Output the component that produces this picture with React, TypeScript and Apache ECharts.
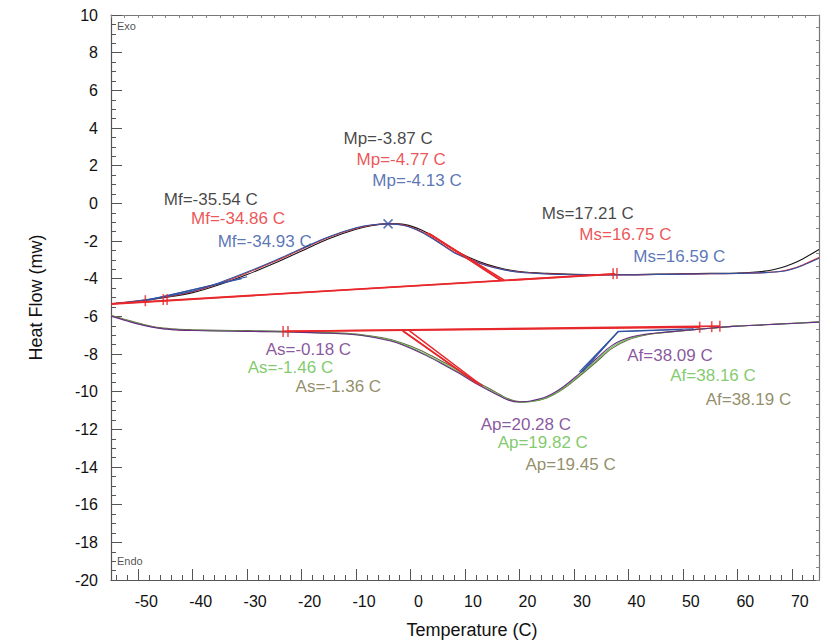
import React, { useEffect, useRef } from "react";
import * as echarts from "echarts";

// ---------- data ----------
const xMajorTicks = [-50, -40, -30, -20, -10, 0, 10, 20, 30, 40, 50, 60, 70];
const xMinorTicks: number[] = [];
for (let v = -54; v <= 74; v += 2) if (v % 10 !== 0) xMinorTicks.push(v);

// cooling scans (upper)
const coolX = [-55, -50, -45, -40, -35, -30, -25, -20, -15, -10, -7, -4, -1, 2, 5, 8, 11, 14, 17, 20, 25, 30, 35, 40, 45, 50, 55, 60, 65, 68, 70, 72, 75];
const coolBlack = [-5.34, -5.2, -5.0, -4.74, -4.31, -3.78, -3.18, -2.53, -1.88, -1.38, -1.18, -1.08, -1.13, -1.42, -1.92, -2.48, -2.9, -3.24, -3.47, -3.62, -3.72, -3.77, -3.78, -3.78, -3.76, -3.74, -3.72, -3.7, -3.6, -3.42, -3.22, -2.95, -2.45];
const coolRed = [-5.33, -5.18, -4.97, -4.69, -4.24, -3.69, -3.09, -2.44, -1.8, -1.32, -1.15, -1.09, -1.17, -1.5, -2.01, -2.58, -2.97, -3.29, -3.51, -3.65, -3.74, -3.79, -3.8, -3.8, -3.78, -3.76, -3.74, -3.72, -3.68, -3.61, -3.48, -3.27, -2.88];
const coolBlue = [-5.33, -5.17, -4.95, -4.66, -4.2, -3.65, -3.05, -2.4, -1.77, -1.3, -1.14, -1.09, -1.19, -1.53, -2.05, -2.62, -3.0, -3.31, -3.52, -3.66, -3.75, -3.79, -3.8, -3.8, -3.78, -3.76, -3.74, -3.72, -3.68, -3.62, -3.5, -3.3, -2.92];

// heating scans (lower)
const heatX = [-55, -52, -49, -46, -43, -40, -35, -30, -25, -20, -15, -10, -6, -3, 0, 3, 6, 9, 12, 15, 18, 20, 22, 25, 28, 31, 34, 37, 40, 43, 46, 50, 55, 60, 65, 70, 75];
const heatOlive = [-5.94, -6.2, -6.43, -6.6, -6.68, -6.71, -6.74, -6.76, -6.78, -6.81, -6.86, -6.94, -7.1, -7.28, -7.58, -7.97, -8.42, -8.9, -9.45, -9.92, -10.38, -10.53, -10.52, -10.33, -9.86, -9.18, -8.45, -7.7, -7.24, -7.0, -6.88, -6.76, -6.63, -6.52, -6.45, -6.37, -6.29];
const heatGreen = [-5.97, -6.23, -6.46, -6.63, -6.71, -6.74, -6.77, -6.79, -6.81, -6.84, -6.89, -6.97, -7.14, -7.33, -7.65, -8.05, -8.5, -8.98, -9.52, -9.99, -10.43, -10.56, -10.53, -10.31, -9.82, -9.12, -8.38, -7.62, -7.19, -6.98, -6.87, -6.76, -6.63, -6.52, -6.45, -6.38, -6.3];
const heatPurple = [-5.99, -6.25, -6.48, -6.64, -6.72, -6.75, -6.78, -6.8, -6.82, -6.85, -6.9, -6.98, -7.16, -7.36, -7.69, -8.1, -8.56, -9.04, -9.57, -10.03, -10.45, -10.55, -10.5, -10.26, -9.75, -9.04, -8.28, -7.54, -7.14, -6.96, -6.86, -6.76, -6.63, -6.52, -6.45, -6.38, -6.31];

// construction lines
const redBaselines = [
  [[-55, -5.33], [37.6, -3.74]],
  [[-55, -5.35], [37.2, -3.76]],
  [[-23.4, -6.8], [53.1, -6.58]],
  [[-22.5, -6.79], [56.8, -6.52]],
];
const redTangents = [
  [[3.0, -1.55], [17.21, -4.08]],
  [[3.4, -1.6], [16.75, -4.09]],
  [[3.8, -1.68], [16.59, -4.1]],
  [[-1.46, -6.77], [12.2, -9.56]],
  [[-1.36, -6.77], [12.6, -9.62]],
  [[-0.18, -6.77], [13.2, -9.7]],
];
const blueTangents = [
  [[-49, -5.17], [-31, -4.0]],
  [[-48, -5.14], [-30, -3.9]],
  [[31.0, -8.95], [38.09, -6.82]],
  [[31.3, -8.95], [38.16, -6.8]],
  [[31.6, -8.93], [38.19, -6.78]],
  [[38.09, -6.82], [50, -6.7]],
  [[38.16, -6.8], [52, -6.66]],
];
const redMarks = [[-48.7, -5.17], [-45.4, -5.11], [-44.7, -5.1], [37.2, -3.74], [37.9, -3.73], [-23.4, -6.8], [-22.5, -6.8], [53.1, -6.58], [55.3, -6.55], [56.8, -6.52]];
const peakMark = [[-4.13, -1.09]];

// annotations: [text, x, y, colourKey]
const annotations: [string, number, number, string][] = [
  ["Mf=-35.54 C", -45.4, 0.22, "black"],
  ["Mf=-34.86 C", -40.4, -0.78, "red"],
  ["Mf=-34.93 C", -35.5, -2.05, "blue"],
  ["Mp=-3.87 C", -12.4, 3.45, "black"],
  ["Mp=-4.77 C", -10.0, 2.34, "red"],
  ["Mp=-4.13 C", -7.1, 1.23, "blue"],
  ["Ms=17.21 C", 24.0, -0.52, "black"],
  ["Ms=16.75 C", 30.9, -1.68, "red"],
  ["Ms=16.59 C", 40.8, -2.8, "blue"],
  ["As=-0.18 C", -26.7, -7.77, "purple"],
  ["As=-1.46 C", -30.0, -8.72, "green"],
  ["As=-1.36 C", -21.2, -9.73, "olive"],
  ["Ap=20.28 C", 12.8, -11.74, "purple"],
  ["Ap=19.82 C", 15.9, -12.69, "green"],
  ["Ap=19.45 C", 21.0, -13.86, "olive"],
  ["Af=38.09 C", 39.7, -8.09, "purple"],
  ["Af=38.16 C", 47.6, -9.15, "green"],
  ["Af=38.19 C", 54.1, -10.42, "olive"],
];
const sideLabels: [string, number, number][] = [
  ["Exo", -54.0, 9.42],
  ["Endo", -54.0, -19.0],
];

// ---------- styles ----------
const C: Record<string, string> = {
  black: "#151515",
  red: "#e8282c",
  blue: "#3152a3",
  purple: "#6c2c86",
  green: "#5fbd46",
  olive: "#787143",
};
const FONT = "'Liberation Sans', Arial, sans-serif";

function curve(name: string, xs: number[], ys: number[], color: string) {
  return {
    name,
    type: "line",
    data: xs.map((x, i) => [x, ys[i]]),
    smooth: 0.35,
    showSymbol: false,
    symbol: "none",
    lineStyle: { color, width: 1.1 },
    z: 3,
    silent: true,
  };
}
function segs(list: number[][][], color: string, width: number) {
  return list.map((s, i) => ({
    name: color + "seg" + i,
    type: "line",
    data: s,
    showSymbol: false,
    symbol: "none",
    lineStyle: { color, width },
    z: 4,
    silent: true,
  }));
}

export default function App() {
  const ref = useRef<HTMLDivElement>(null);
  useEffect(() => {
    const chart = echarts.init(ref.current!, null, { renderer: "svg" });
    const axisCol = "#555";
    const option: any = {
      animation: false,
      backgroundColor: "#fff",
      textStyle: { fontFamily: FONT },
      grid: { left: 111, right: 6, top: 15, bottom: 62, containLabel: false },
      xAxis: [
        {
          type: "value",
          min: -55,
          max: 75,
          position: "bottom",
          axisLine: { show: true, onZero: false, lineStyle: { color: axisCol, width: 1.2 } },
          axisTick: { show: true, inside: true, length: 11, customValues: xMajorTicks, lineStyle: { color: axisCol } },
          axisLabel: { customValues: xMajorTicks, fontSize: 16, color: "#111", margin: 13, padding: [0, 0, 0, 16], fontFamily: FONT },
          splitLine: { show: false },
          name: "Temperature (C)",
          nameLocation: "middle",
          nameGap: 41,
          nameTextStyle: { fontSize: 18, color: "#111", fontFamily: FONT, padding: [0, 0, 0, 14] },
        },
        {
          type: "value",
          min: -55,
          max: 75,
          position: "bottom",
          axisLine: { show: false, onZero: false },
          axisTick: { show: true, inside: true, length: 5, customValues: xMinorTicks, lineStyle: { color: axisCol } },
          axisLabel: { show: false },
          splitLine: { show: false },
        },
        {
          type: "value",
          min: -55,
          max: 75,
          interval: 2.5,
          position: "top",
          axisLine: { show: true, onZero: false, lineStyle: { color: "#777", width: 1.2 } },
          axisTick: { show: true, inside: true, length: 3, lineStyle: { color: "#888" } },
          axisLabel: { show: false },
          splitLine: { show: false },
        },
      ],
      yAxis: [
        {
          type: "value",
          min: -20,
          max: 10,
          interval: 2,
          position: "left",
          axisLine: { show: true, onZero: false, lineStyle: { color: axisCol, width: 1.2 } },
          axisTick: { show: true, inside: true, length: 11, lineStyle: { color: axisCol } },
          minorTick: { show: true, splitNumber: 4, length: 5, lineStyle: { color: axisCol } },
          axisLabel: { fontSize: 16, color: "#111", margin: 13, fontFamily: FONT },
          splitLine: { show: false },
          name: "Heat Flow (mw)",
          nameLocation: "middle",
          nameGap: 66,
          nameTextStyle: { fontSize: 18, color: "#111", fontFamily: FONT },
        },
        {
          type: "value",
          min: -20,
          max: 10,
          interval: 2,
          position: "right",
          axisLine: { show: true, onZero: false, lineStyle: { color: "#777", width: 1.2 } },
          axisTick: { show: true, inside: true, length: 3, lineStyle: { color: "#888" } },
          minorTick: { show: true, splitNumber: 3, length: 3, lineStyle: { color: "#888" } },
          axisLabel: { show: false },
          splitLine: { show: false },
        },
      ],
      series: [
        ...segs(redBaselines, C.red, 1.6),
        ...segs(redTangents, C.red, 1.5),
        ...segs(blueTangents, C.blue, 1.1),
        curve("coolBlack", coolX, coolBlack, C.black),
        curve("coolRed", coolX, coolRed, C.red),
        curve("coolBlue", coolX, coolBlue, C.blue),
        curve("heatOlive", heatX, heatOlive, "#6a6845"),
        curve("heatGreen", heatX, heatGreen, C.green),
        curve("heatPurple", heatX, heatPurple, C.purple),
        {
          name: "marks",
          type: "scatter",
          data: redMarks,
          symbol: "rect",
          symbolSize: [1.6, 11],
          itemStyle: { color: C.red },
          z: 6,
          silent: true,
        },
        {
          name: "peak",
          type: "scatter",
          data: peakMark,
          symbol: "path://M0 0L10 10M10 0L0 10",
          symbolSize: 9,
          itemStyle: { color: "none", borderColor: C.blue, borderWidth: 1.5 },
          z: 7,
          silent: true,
        },
        {
          name: "annotations",
          type: "scatter",
          data: annotations.map(([t, x, y, c]) => ({
            name: t,
            value: [x, y],
            label: { color: C[c] },
          })),
          symbolSize: 1,
          itemStyle: { color: "rgba(0,0,0,0)" },
          label: {
            show: true,
            position: "right",
            distance: 0,
            formatter: (p: any) => p.name,
            fontSize: 17,
            fontFamily: FONT,
          },
          z: 8,
          silent: true,
        },
        {
          name: "side",
          type: "scatter",
          data: sideLabels.map(([t, x, y]) => ({ name: t, value: [x, y] })),
          symbolSize: 1,
          itemStyle: { color: "rgba(0,0,0,0)" },
          label: {
            show: true,
            position: "right",
            distance: 0,
            formatter: (p: any) => p.name,
            fontSize: 11,
            color: "#222",
            fontFamily: FONT,
          },
          z: 8,
          silent: true,
        },
      ],
    };
    chart.setOption(option);
    return () => chart.dispose();
  }, []);
  return (
    <div
      ref={ref}
      style={{ position: "fixed", left: 0, top: 0, width: 825, height: 644, background: "#fff" }}
    />
  );
}
